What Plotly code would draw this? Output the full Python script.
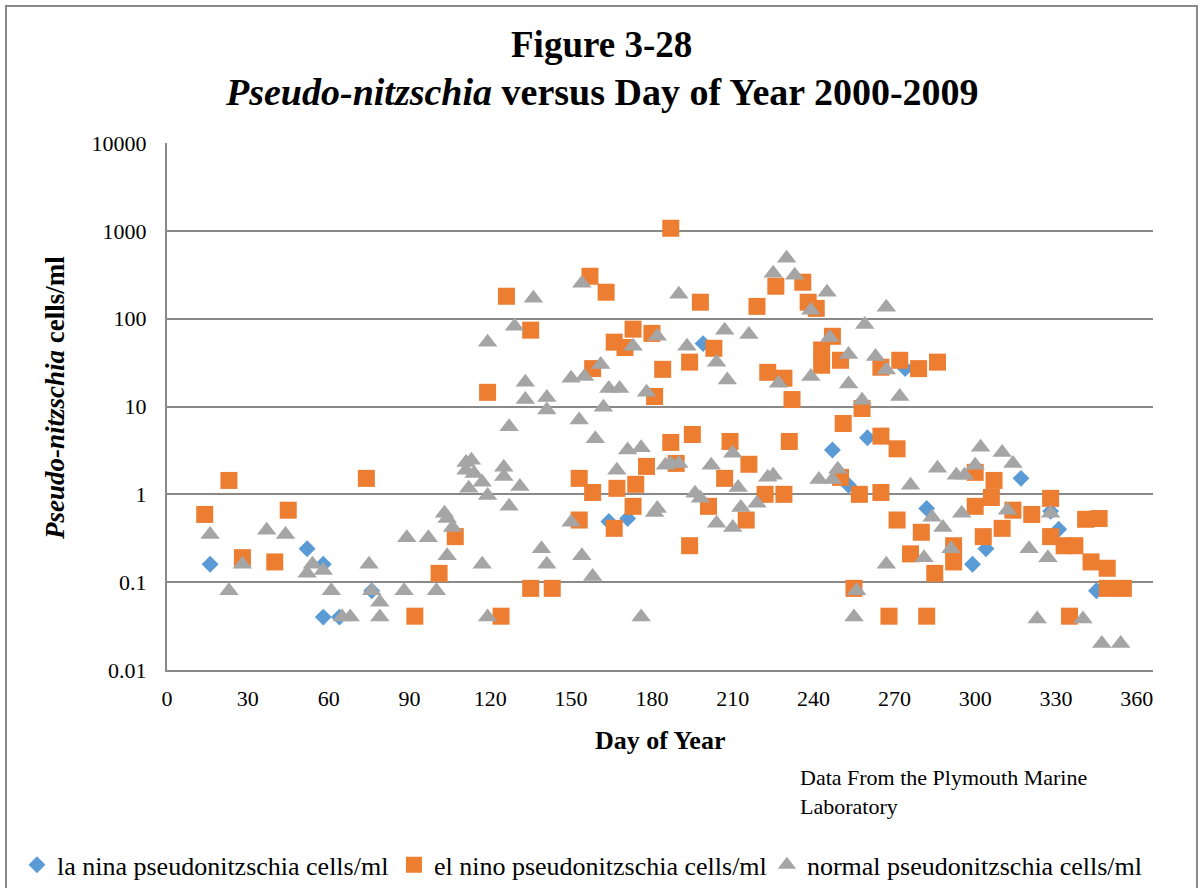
import plotly.graph_objects as go

# Day of year and Pseudo-nitzschia counts (cells/ml), grouped by ENSO phase
la_nina_day = [16, 52, 58, 58, 64, 76, 164, 171, 199, 247, 253, 260, 274, 282,
               299, 304, 317, 328, 331, 345]
la_nina_val = [0.16, 0.24, 0.16, 0.04, 0.04, 0.08, 0.49, 0.53, 52, 3.2, 1.27, 4.4,
               27, 0.69, 0.16, 0.24, 1.52, 0.64, 0.40, 0.08]

el_nino_day = [14, 23, 28, 40, 45, 74, 92, 101, 107, 119, 124, 126, 135, 135, 143,
               153, 153, 157, 158, 158, 163, 166, 166, 167, 170, 173, 173, 174, 178,
               180, 181, 184, 187, 187, 189, 194, 194, 195, 198, 201, 203, 207, 209,
               215, 216, 219, 222, 223, 226, 229, 229, 231, 232, 236, 238, 241, 243,
               243, 247, 250, 250, 251, 255, 257, 258, 265, 265, 265, 268, 271, 271,
               272, 276, 279, 280, 282, 285, 286, 292, 292, 300, 300, 303, 306, 307,
               310, 314, 321, 328, 328, 333, 337, 335, 341, 343, 346, 349, 349, 355]
el_nino_val = [0.59, 1.44, 0.19, 0.17, 0.66, 1.52, 0.041, 0.126, 0.33, 14.5, 0.041, 180,
               74, 0.085, 0.085, 1.52, 0.51, 304, 27, 1.05, 200, 54, 0.41, 1.17, 47,
               0.73, 76, 1.3, 2.08, 68, 13, 26.5, 1070, 3.9, 2.25, 32, 0.26, 4.8, 154,
               0.73, 46, 1.52, 4.0, 0.51, 2.2, 138, 1.0, 24.5, 234, 1.0, 21, 4.0, 12,
               260, 154, 131, 44, 29.5, 63, 33.6, 1.56, 6.4, 0.085, 1.0, 9.5, 4.6, 28,
               1.05, 0.041, 3.3, 0.51, 33.6, 0.21, 27, 0.37, 0.041, 0.126, 32, 0.26,
               0.17, 1.78, 0.73, 0.33, 0.92, 1.44, 0.41, 0.66, 0.59, 0.9, 0.33, 0.26,
               0.26, 0.041, 0.52, 0.17, 0.53, 0.144, 0.085, 0.085]

normal_day = [16, 23, 28, 37, 44, 52, 54, 58, 61, 65, 68, 75, 76, 79, 79, 88, 89, 97,
              100, 103, 104, 106, 104, 111, 113, 111, 114, 112, 117, 117, 119, 119,
              119, 125, 125, 127, 127, 129, 131, 133, 133, 136, 139, 141, 141, 141,
              150, 150, 153, 154, 154, 155, 158, 159, 161, 162, 164, 167, 168, 171,
              173, 176, 176, 178, 181, 182, 182, 185, 187, 190, 190, 193, 196, 198,
              202, 204, 204, 207, 208, 210, 212, 213, 210, 216, 219, 223, 225, 225,
              230, 233, 227, 239, 239, 242, 245, 246, 247, 249, 253, 253, 256, 255,
              258, 259, 263, 267, 267, 267, 272, 276, 281, 284, 286, 288, 291, 293,
              295, 296, 300, 302, 310, 312, 314, 320, 323, 327, 328, 340, 347, 354]
normal_val = [0.35, 0.08, 0.16, 0.39, 0.35, 0.126, 0.16, 0.136, 0.08, 0.04, 0.04, 0.16,
              0.08, 0.059, 0.04, 0.08, 0.32, 0.32, 0.08, 0.61, 0.53, 0.42, 0.2, 2.3,
              2.44, 1.88, 1.73, 1.17, 1.37, 0.16, 0.97, 0.04, 54, 2.03, 1.6, 0.73,
              5.9, 82, 1.23, 18.9, 12, 171, 0.24, 0.16, 9.1, 12.7, 0.48, 21, 7, 0.2,
              253, 22, 0.116, 4.3, 30, 9.8, 16, 1.88, 16, 3.2, 48.5, 3.4, 0.04, 14.5,
              0.62, 63, 0.69, 2.14, 2.25, 2.25, 190, 48.5, 1.03, 0.9, 2.14, 0.47, 32,
              74, 20, 2.93, 1.2, 0.71, 0.42, 66, 0.79, 1.56, 1.65, 329, 488, 312,
              18.4, 125, 22, 1.48, 200, 61, 1.48, 1.93, 39, 18, 0.08, 0.04, 11.8, 86,
              37, 135, 26, 0.16, 13, 1.27, 0.19, 0.55, 1.98, 0.42, 0.24, 1.65, 0.61,
              1.65, 2.14, 3.43, 3.0, 0.66, 2.25, 0.24, 0.038, 0.19, 0.61, 0.038,
              0.02, 0.02]

x_ticks = [0, 30, 60, 90, 120, 150, 180, 210, 240, 270, 300, 330, 360]
y_ticks = [0.01, 0.1, 1, 10, 100, 1000, 10000]
y_tick_text = ["0.01", "0.1", "1", "10", "100", "1000", "10000"]

FONT = "Liberation Serif"
GRID = "#898989"

fig = go.Figure()
fig.add_trace(go.Scatter(
    x=la_nina_day, y=la_nina_val, mode="markers",
    name="la nina pseudonitzschia cells/ml", legend="legend",
    marker=dict(symbol="diamond", size=13, color="#5B9BD5", line=dict(width=0)),
))
fig.add_trace(go.Scatter(
    x=el_nino_day, y=el_nino_val, mode="markers",
    name="el nino pseudonitzschia cells/ml", legend="legend2",
    marker=dict(symbol="square", size=17, color="#ED7D31", line=dict(width=0)),
))
fig.add_trace(go.Scatter(
    x=normal_day, y=normal_val, mode="markers",
    name="normal pseudonitzschia cells/ml", legend="legend3",
    marker=dict(symbol="triangle-up", size=17, color="#A5A5A5", line=dict(width=0)),
))


def legend_box(x):
    # one legend per series, laid out in a single row under the chart
    return dict(
        orientation="h", xref="container", yref="container",
        x=x, xanchor="left", y=0.026, yanchor="middle",
        font=dict(family=FONT, size=26, color="black"),
        bgcolor="rgba(0,0,0,0)", itemwidth=30,
    )


fig.update_layout(
    width=1204, height=888,
    margin=dict(l=167, r=51, t=143, b=218),
    paper_bgcolor="white", plot_bgcolor="white",
    font=dict(family=FONT, size=22, color="black"),
    showlegend=True,
    legend=legend_box(0.0141),
    legend2=legend_box(0.3272),
    legend3=legend_box(0.6370),
    xaxis=dict(
        range=[0, 366], tickmode="array", tickvals=x_ticks,
        showgrid=False, zeroline=False, showline=True,
        linecolor=GRID, linewidth=2, ticks="",
        tickfont=dict(family=FONT, size=22), ticklabelstandoff=8,
    ),
    yaxis=dict(
        type="log", range=[-2, 4], tickmode="array",
        tickvals=y_ticks, ticktext=y_tick_text,
        showgrid=True, gridcolor=GRID, gridwidth=2,
        zeroline=False, showline=True, linecolor=GRID, linewidth=2, ticks="",
        tickfont=dict(family=FONT, size=22), ticklabelstandoff=14,
    ),
)

# outer chart frame
fig.add_shape(type="rect", xref="paper", yref="paper",
              x0=-0.1633, x1=1.0446, y0=-0.427, y1=1.26,
              line=dict(color=GRID, width=2), fillcolor="rgba(0,0,0,0)",
              layer="below")

annotations = [
    dict(text="<b>Figure 3-28</b>", x=0.441, y=1.186,
         font=dict(family=FONT, size=37)),
    dict(text="<b><i>Pseudo-nitzschia</i> versus Day of Year 2000-2009</b>",
         x=0.441, y=1.097, font=dict(family=FONT, size=38)),
    dict(text="<b>Day of Year</b>", x=0.5, y=-0.133,
         font=dict(family=FONT, size=26)),
    dict(text="<b><i>Pseudo-nitzschia</i> cells/ml</b>", x=-0.1136, y=0.516,
         textangle=-90, font=dict(family=FONT, size=27)),
    dict(text="Data From the Plymouth Marine<br>Laboratory", x=0.640, y=-0.2315,
         xanchor="left", align="left", font=dict(family=FONT, size=22)),
]
for a in annotations:
    a.setdefault("xanchor", "center")
    a.update(xref="paper", yref="paper", showarrow=False, yanchor="middle")
    fig.add_annotation(**a)

fig.write_html("out.html")
